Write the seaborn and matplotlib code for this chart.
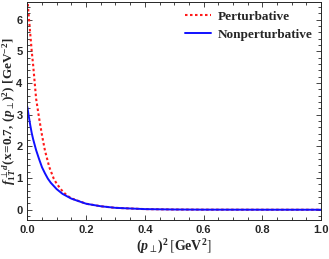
import numpy as np
import pandas as pd
import matplotlib
matplotlib.use("Agg")
import matplotlib.pyplot as plt
from matplotlib.ticker import MultipleLocator
import seaborn as sns

sns.set_style("ticks")
plt.rcParams['font.family'] = ['Liberation Sans', 'DejaVu Sans']
plt.rcParams['mathtext.fontset'] = 'custom'
plt.rcParams['mathtext.rm'] = 'Liberation Serif:bold'
plt.rcParams['mathtext.bf'] = 'Liberation Serif:bold'
plt.rcParams['mathtext.it'] = 'Liberation Serif:italic:bold'
plt.rcParams['mathtext.fallback'] = 'stix'

# values
p2_pert = [0.0, 0.005, 0.01, 0.015, 0.02, 0.03, 0.04, 0.05, 0.06, 0.075, 0.09, 0.10, 0.12, 0.135, 0.15, 0.2, 0.25, 0.3, 0.4, 0.5, 0.6, 0.8, 1.0]
f_pert = [6.7, 6.1, 5.55, 5.0, 4.55, 3.5, 2.9, 2.35, 1.87, 1.34, 0.98, 0.82, 0.58, 0.45, 0.36, 0.19, 0.11, 0.06, 0.02, 0.008, 0.003, 0.001, 0.0]
p2_nonp = [0.0, 0.005, 0.01, 0.015, 0.02, 0.03, 0.04, 0.05, 0.06, 0.07, 0.08, 0.10, 0.12, 0.15, 0.2, 0.25, 0.3, 0.4, 0.5, 0.6, 0.8, 1.0]
f_nonp = [3.25, 2.95, 2.67, 2.42, 2.22, 1.88, 1.6, 1.34, 1.15, 0.98, 0.85, 0.65, 0.5, 0.35, 0.19, 0.11, 0.06, 0.02, 0.008, 0.003, 0.001, 0.0]
labels = ["Perturbative", "Nonperturbative"]

df = pd.concat([
    pd.DataFrame({"p2": p2_pert, "f": f_pert, "model": labels[0]}),
    pd.DataFrame({"p2": p2_nonp, "f": f_nonp, "model": labels[1]}),
])

fig = plt.figure(figsize=(3.29, 2.59), dpi=100)
ax = fig.add_axes([0.083, 0.151, 0.893, 0.841])

sns.lineplot(data=df[df.model == labels[0]], x="p2", y="f", color="#ff1a1a",
             linestyle=(0, (1.2, 1.2)), linewidth=1.5, label=labels[0], ax=ax)
sns.lineplot(data=df[df.model == labels[1]], x="p2", y="f", color="#1010ff",
             linewidth=1.4, label=labels[1], ax=ax)

ax.set_xlim(0, 1.0)
ax.set_ylim(-0.32, 6.55)
ax.xaxis.set_major_locator(MultipleLocator(0.2))
ax.xaxis.set_minor_locator(MultipleLocator(0.05))
ax.yaxis.set_major_locator(MultipleLocator(1))
ax.yaxis.set_minor_locator(MultipleLocator(0.2))
ax.tick_params(which='both', direction='in', top=True, right=True, width=0.6)
ax.tick_params(which='major', length=3.5, labelsize=8)
ax.tick_params(which='minor', length=2)
ax.set_xticks([0, 0.2, 0.4, 0.6, 0.8, 1.0])
ax.set_xticklabels(["0.0", "0.2", "0.4", "0.6", "0.8", "1.0"], fontweight='bold')
ax.set_yticks([0, 1, 2, 3, 4, 5, 6])
ax.set_yticklabels(["0", "1", "2", "3", "4", "5", "6"], fontweight='bold')
for sp in ax.spines.values():
    sp.set_linewidth(0.7)

ax.set_xlabel(r"$(\mathit{p}_{\perp})^2\,\left[\mathrm{GeV}^2\right]$", fontsize=10, labelpad=2)
ax.set_ylabel(r"$\mathit{f}_{1T}^{\,\perp d}\mathrm{(x\!=\!0.7,\,(}\mathit{p}_{\perp}\mathrm{)}^2\mathrm{)}\ \mathrm{[GeV}^{-2}\mathrm{]}$",
              fontsize=9.5)
ax.yaxis.set_label_coords(-0.033, 0.5)

leg = ax.legend(loc='upper right', frameon=False, prop={'family': 'Liberation Serif', 'weight': 'bold', 'size': 9.5},
                handlelength=2.0, handletextpad=0.5, borderaxespad=0.25, labelspacing=0.45)

fig.savefig("out.png", dpi=100)
